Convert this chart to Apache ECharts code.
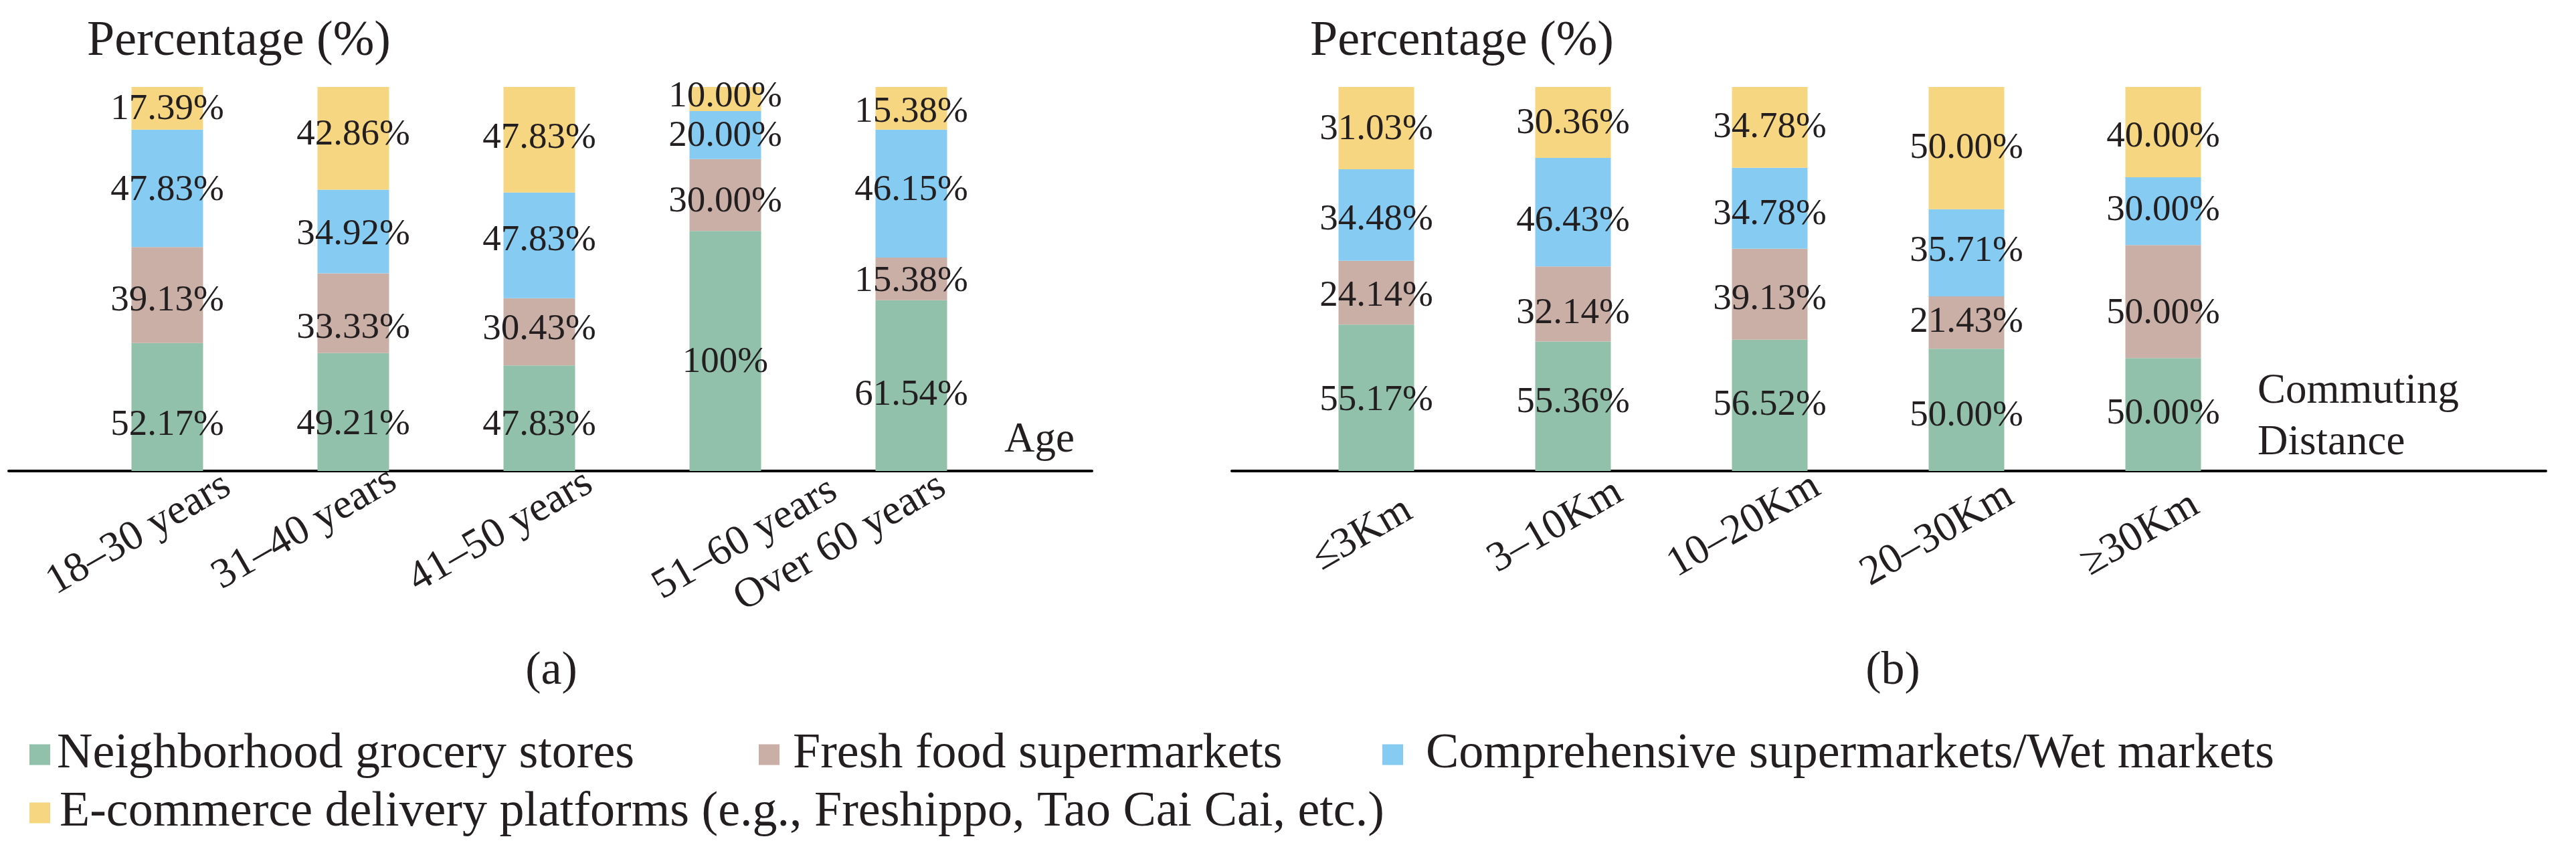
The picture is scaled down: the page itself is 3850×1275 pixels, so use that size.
<!DOCTYPE html>
<html>
<head>
<meta charset="utf-8">
<script src="https://cdn.jsdelivr.net/npm/echarts@6/dist/echarts.min.js"></script>
<style>
html,body{margin:0;padding:0;background:#ffffff;}
#chart{width:3850px;height:1275px;}
</style>
</head>
<body>
<div id="chart"></div>
<script>
// ---------- data ----------
const seriesNames = [
  'Neighborhood grocery stores',
  'Fresh food supermarkets',
  'Comprehensive supermarkets/Wet markets',
  'E-commerce delivery platforms (e.g., Freshippo, Tao Cai Cai, etc.)'
];
const ageCategories = ['18–30 years', '31–40 years', '41–50 years', '51–60 years', 'Over 60 years'];
const distCategories = ['≤3Km', '3–10Km', '10–20Km', '20–30Km', '≥30Km'];

const ageNeighborhood   = [52.17, 49.21, 47.83, 100.00, 61.54];
const ageFresh          = [39.13, 33.33, 30.43, 30.00, 15.38];
const ageComprehensive  = [47.83, 34.92, 47.83, 20.00, 46.15];
const ageEcommerce      = [17.39, 42.86, 47.83, 10.00, 15.38];

const distNeighborhood  = [55.17, 55.36, 56.52, 50.00, 50.00];
const distFresh         = [24.14, 32.14, 39.13, 21.43, 50.00];
const distComprehensive = [34.48, 46.43, 34.78, 35.71, 30.00];
const distEcommerce     = [31.03, 30.36, 34.78, 50.00, 40.00];

// ---------- styles ----------
const colors = ['#91C1AA', '#CAAFA6', '#86CBF1', '#F6D680'];
const FONT = "'Liberation Serif', 'Times New Roman', serif";
const INK = '#231F20';
// per-label nudges [along text, across text] for the rotated tick labels
const ageLabelShift  = [[69, 63], [47, 41], [58, 52], [128, 105], [31, 42]];
const distLabelShift = [[15, 74], [46, 61], [52, 54], [41, 63], [19, 67]];
const TICK_HALF = 34;
// vertical nudges of the value labels (px), per series, per category
const ageLabelDy  = [[27, 19, 10, 17, 14], [9, 22, -3, 10, 4], [3, 5, -7, 2, -5], [2, -5, -2, -3, 6]];
const distLabelDy = [[4, -6, 0, 9, -1], [5, 14, 8, -1, 18], [7, 13, 9, -2, -1], [2, 2, 0, 0, 7]];

function catData(names, shifts) {
  return names.map((n, i) => ({
    value: n,
    textStyle: { verticalAlign: 'top', padding: [shifts[i][1] - TICK_HALF, -shifts[i][0], 0, 0] }
  }));
}

function fmtPct(v) {
  return v === 100 ? '100%' : v.toFixed(2) + '%';
}

function buildSeries(groups, axisIndex, stack, barWidth, dys) {
  const n = groups[0].length;
  const totals = [];
  for (let i = 0; i < n; i++) {
    let s = 0;
    groups.forEach(g => { s += g[i]; });
    totals.push(s);
  }
  return groups.map((g, k) => ({
    name: seriesNames[k],
    type: 'bar',
    stack: stack,
    xAxisIndex: axisIndex,
    yAxisIndex: axisIndex,
    barWidth: barWidth,
    itemStyle: { color: colors[k] },
    data: g.map((v, i) => ({ value: v / totals[i] * 100, label: { offset: [0, dys[k][i]] } })),
    label: {
      show: true,
      position: 'inside',
      fontFamily: FONT,
      fontSize: 55,
      color: INK,
      formatter: p => fmtPct(g[p.dataIndex])
    },
    emphasis: { disabled: true }
  }));
}

const catAxisBase = {
  type: 'category',
  axisLine: { show: false },
  axisTick: { show: false },
  splitLine: { show: false },
  axisLabel: {
    interval: 0,
    rotate: 30,
    margin: 0,
    verticalAlign: 'top',
    fontFamily: FONT,
    fontSize: 63,
    color: INK
  }
};

const lineAxis = (gridIndex) => ({
  type: 'value', gridIndex: gridIndex, min: 0, max: 1,
  axisLine: { show: true, onZero: false, lineStyle: { color: '#000000', width: 4 } },
  axisTick: { show: false }, axisLabel: { show: false }, splitLine: { show: false }
});
const hiddenY = (gridIndex) => ({
  type: 'value', gridIndex: gridIndex, min: 0, max: 100, show: false,
  splitLine: { show: false }
});

function legendItem(name, left, top, pad) {
  return {
    data: [name],
    left: left,
    top: top,
    padding: 0,
    icon: 'rect',
    itemWidth: 31,
    itemHeight: 31,
    selectedMode: false,
    textStyle: { fontFamily: FONT, fontSize: 74, color: INK, padding: [0, 0, 0, pad] }
  };
}

const titleStyle = (size) => ({ fontFamily: FONT, fontSize: size, fontWeight: 'normal', color: INK });

const option = {
  backgroundColor: '#ffffff',
  animation: false,
  title: [
    { text: 'Percentage (%)', left: 130, top: 26, padding: 0, textStyle: titleStyle(74) },
    { text: 'Percentage (%)', left: 1958, top: 26, padding: 0, textStyle: titleStyle(74) },
    { text: 'Age', left: 1501, top: 627, padding: 0, textStyle: titleStyle(63) },
    { text: 'Commuting\nDistance', left: 3374, top: 547, padding: 0,
      textStyle: Object.assign(titleStyle(63), { lineHeight: 77 }) },
    { text: '(a)', left: 824, top: 969, padding: 0, textAlign: 'center', textStyle: titleStyle(70) },
    { text: '(b)', left: 2829, top: 969, padding: 0, textAlign: 'center', textStyle: titleStyle(70) }
  ],
  legend: [
    legendItem(seriesNames[0], 44, 1091, 5),
    legendItem(seriesNames[1], 1134, 1091, 15),
    legendItem(seriesNames[2], 2066, 1091, 29),
    legendItem(seriesNames[3], 44, 1178, 9)
  ],
  grid: [
    { left: 111, width: 1390, top: 130, height: 574, outerBoundsMode: 'none' },
    { left: 1910, width: 1470, top: 130, height: 574, outerBoundsMode: 'none' },
    { left: 13, width: 1619, top: 130, height: 574, outerBoundsMode: 'none' },
    { left: 1841, width: 1964, top: 130, height: 574, outerBoundsMode: 'none' }
  ],
  xAxis: [
    Object.assign({}, catAxisBase, { gridIndex: 0, data: catData(ageCategories, ageLabelShift) }),
    Object.assign({}, catAxisBase, { gridIndex: 1, data: catData(distCategories, distLabelShift) }),
    lineAxis(2),
    lineAxis(3)
  ],
  yAxis: [hiddenY(0), hiddenY(1), hiddenY(2), hiddenY(3)],
  series: [].concat(
    buildSeries([ageNeighborhood, ageFresh, ageComprehensive, ageEcommerce], 0, 'age', 107, ageLabelDy),
    buildSeries([distNeighborhood, distFresh, distComprehensive, distEcommerce], 1, 'dist', 113, distLabelDy)
  )
};

const chart = echarts.init(document.getElementById('chart'), null, { renderer: 'canvas' });
chart.setOption(option);
</script>
</body>
</html>
